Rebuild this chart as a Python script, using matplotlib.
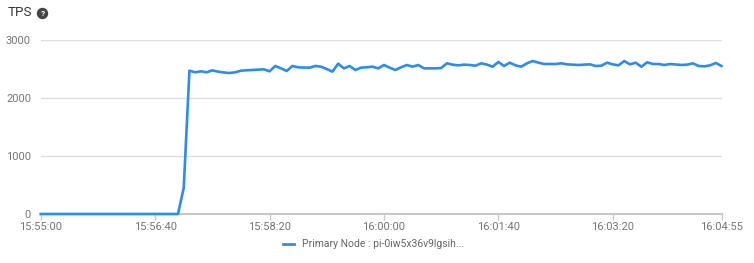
import matplotlib
matplotlib.use("Agg")
import matplotlib.pyplot as plt
from matplotlib.lines import Line2D

plt.rcParams['font.family'] = ['Roboto', 'DejaVu Sans']

# seconds since 15:55:00, sampled every 5 s
t_seconds = list(range(0, 600, 5))
tps = ([0] * 25 + [450] +
       [2471, 2443, 2460, 2443, 2477, 2454, 2440, 2431, 2443, 2471,
        2478, 2483, 2489, 2494, 2460, 2552, 2511, 2466, 2552, 2529,
        2525, 2523, 2552, 2540, 2500, 2454, 2592, 2511, 2552, 2483,
        2523, 2530, 2540, 2511, 2569, 2523, 2483, 2529, 2569, 2540,
        2569, 2511, 2511, 2511, 2517, 2598, 2575, 2563, 2575, 2569,
        2557, 2598, 2575, 2540, 2621, 2552, 2609, 2563, 2540, 2598,
        2638, 2609, 2586, 2586, 2586, 2598, 2580, 2575, 2569, 2575,
        2580, 2552, 2557, 2609, 2580, 2563, 2638, 2580, 2609, 2540,
        2615, 2586, 2586, 2569, 2586, 2578, 2569, 2575, 2598, 2552,
        2546, 2563, 2604, 2552])
x_tick_seconds = [0, 100, 200, 300, 400, 500, 595]
x_tick_labels = ["15:55:00", "15:56:40", "15:58:20", "16:00:00", "16:01:40", "16:03:20", "16:04:55"]
y_ticks = [0, 1000, 2000, 3000]
series_label = "Primary Node : pi-0iw5x36v9lgsih..."
title = "TPS"

W, H = 754, 263
fig = plt.figure(figsize=(W / 100, H / 100), dpi=100)
ax = fig.add_axes([40.7 / W, 1 - 214 / H, (721.5 - 40.7) / W, (214 - 40) / H])

line_color = "#2d8cf0"
ax.plot(t_seconds, tps, color=line_color, lw=1.9, solid_joinstyle="round", zorder=3, clip_on=False)

ax.set_xlim(0, 595)
ax.set_ylim(0, 3000)
ax.set_yticks(y_ticks)
ax.set_yticklabels([str(v) for v in y_ticks])
ax.set_xticks(x_tick_seconds)
ax.set_xticklabels(x_tick_labels)

for s in ["top", "right", "left"]:
    ax.spines[s].set_visible(False)
ax.spines["bottom"].set_color("#c8c8c8")
ax.spines["bottom"].set_linewidth(1.5)
ax.grid(axis="y", color="#dedede", lw=1.0, zorder=0)
ax.set_axisbelow(True)
ax.tick_params(axis="y", length=0, pad=7, labelsize=8, labelcolor="#757575")
ax.tick_params(axis="x", length=4, width=1, color="#c8c8c8", pad=2, labelsize=8, labelcolor="#757575")

fig.text(8 / W, 1 - 13 / H, title, fontsize=9.6, color="#333333", va="center", ha="left")
fig.patches.append(plt.Circle((42.5, H - 13.5), 5, transform=None, color="#444444"))
fig.text(42.5 / W, 1 - 13.8 / H, "?", fontsize=6, color="white", fontweight="bold", ha="center", va="center")

fig.add_artist(Line2D([283 / W, 294 / W], [1 - 244 / H, 1 - 244 / H], color=line_color, lw=2))
fig.text(302 / W, 1 - 244 / H, series_label, fontsize=7.5, color="#666666", va="center", ha="left")

fig.savefig("out.png", dpi=100, facecolor="white")
